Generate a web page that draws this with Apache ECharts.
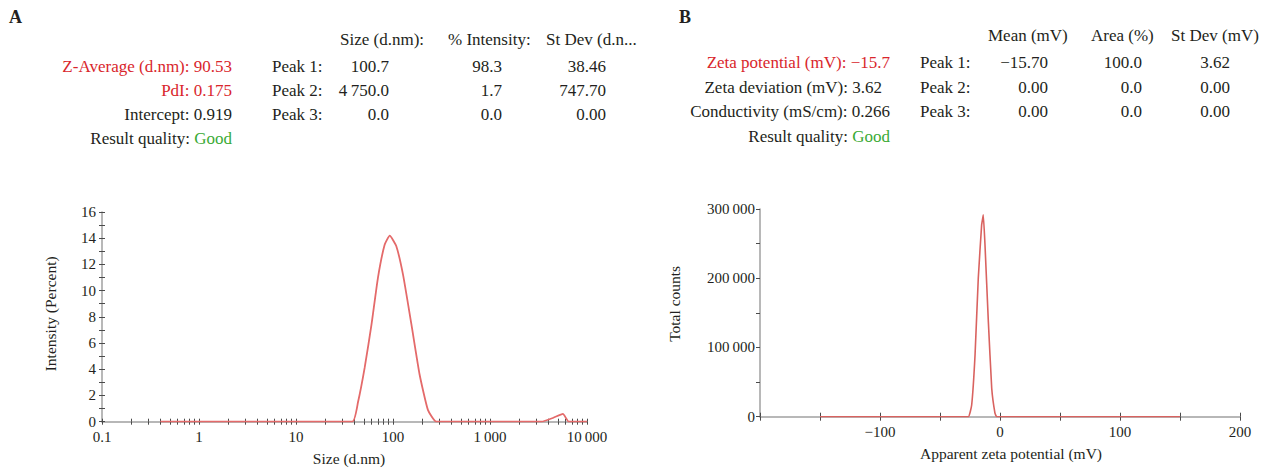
<!DOCTYPE html>
<html>
<head>
<meta charset="utf-8">
<script src="https://cdn.jsdelivr.net/npm/echarts@6/dist/echarts.min.js"></script>
<style>
html,body{margin:0;padding:0;background:#fff;}
#chart{width:1265px;height:469px;}
</style>
</head>
<body>
<div id="chart"></div>
<script>
// ---------- Panel A: size distribution by intensity ----------
const sizeNm = [0.4, 38, 43.6, 51, 60, 70, 82, 92.5, 108, 127, 155, 188, 229, 280, 3400, 4500, 5640, 6500, 10000];
const intensityPct = [0, 0, 1.5, 4.1, 7.4, 11.0, 13.5, 14.2, 13.4, 11.2, 7.4, 3.6, 0.9, 0, 0, 0.3, 0.6, 0, 0];
const sizeTickValues = [0.1, 1, 10, 100, 1000, 10000];
const sizeTickLabels = ['0.1', '1', '10', '100', '1\u2009000', '10\u2009000'];
const intensityTicks = [0, 2, 4, 6, 8, 10, 12, 14, 16];

// ---------- Panel B: zeta potential distribution ----------
const zetaMv = [-150, -26.4, -23.6, -20.8, -18.1, -15.3, -13.9, -12.5, -9.7, -6.9, -4.2, -2.8, 150];
const totalCounts = [0, 0, 16900, 89000, 200000, 277000, 291500, 248000, 137000, 41000, 5000, 0, 0];
const zetaTickLabels = [-100, 0, 100, 200];

// ---------- Result tables ----------
const aSummary = [['Z-Average (d.nm): 90.53', 'red'], ['PdI: 0.175', 'red'], ['Intercept: 0.919', 'dark'], ['Result quality: ', 'good']];
const aHeaders = ['Size (d.nm):', '% Intensity:', 'St Dev (d.n...'];
const aPeaks = ['Peak 1:', 'Peak 2:', 'Peak 3:'];
const aPeakSize = ['100.7', '4\u2009750.0', '0.0'];
const aPeakIntensity = ['98.3', '1.7', '0.0'];
const aPeakStdDev = ['38.46', '747.70', '0.00'];

const bSummary = [['Zeta potential (mV): \u221215.7', 'red'], ['Zeta deviation (mV): 3.62', 'dark'], ['Conductivity (mS/cm): 0.266', 'dark'], ['Result quality: ', 'good']];
const bHeaders = ['Mean (mV)', 'Area (%)', 'St Dev (mV)'];
const bPeaks = ['Peak 1:', 'Peak 2:', 'Peak 3:'];
const bPeakMean = ['\u221215.70', '0.00', '0.00'];
const bPeakArea = ['100.0', '0.0', '0.0'];
const bPeakStdDev = ['3.62', '0.00', '0.00'];

const FONT = '"Liberation Serif", "DejaVu Serif", serif';
const DARK = '#231f20';
const RED = '#d9262c';
const GREEN = '#3aaa35';
const AXIS = '#a0a0a0';
const TICK = '#4a4a4a';
const TFS = 17;

function thin(n) {
  const s = String(Math.abs(n));
  const t = s.length > 4 ? s.replace(/\B(?=(\d{3})+(?!\d))/g, '\u2009') : s;
  return (n < 0 ? '\u2212' : '') + t;
}

const sizeMinorTicks = [];
[0.1, 1, 10, 100, 1000].forEach(d => { for (let k = 1; k <= 9; k++) sizeMinorTicks.push(d * k); });
sizeMinorTicks.push(10000);

const graphics = [];
function txt(x, y, text, align, opts) {
  graphics.push({
    type: 'text', x: x, y: y, silent: true,
    style: Object.assign({
      text: text, fill: DARK, fontSize: TFS, fontFamily: FONT,
      align: align, verticalAlign: 'middle'
    }, opts || {})
  });
}
function summaryText(item) {
  const [t, kind] = item;
  if (kind === 'red') return { text: t, fill: RED };
  if (kind === 'good') return { text: '{d|' + t + '}{g|Good}', rich: { d: { fill: DARK, fontSize: TFS, fontFamily: FONT }, g: { fill: GREEN, fontSize: TFS, fontFamily: FONT } } };
  return { text: t, fill: DARK };
}

// Panel letters
txt(9, 17, 'A', 'left', { fontSize: 18, fontWeight: 'bold' });
txt(679, 17, 'B', 'left', { fontSize: 18, fontWeight: 'bold' });

// Table A
const aRowsY = [66, 90, 114, 138];
const aHeadX = [340, 448, 546];
aHeaders.forEach((h, i) => txt(aHeadX[i], 39, h, 'left'));
aSummary.forEach((s, i) => { const st = summaryText(s); txt(232, aRowsY[i], st.text, 'right', st); });
aPeaks.forEach((p, i) => {
  txt(272, aRowsY[i], p, 'left');
  txt(389, aRowsY[i], aPeakSize[i], 'right');
  txt(502, aRowsY[i], aPeakIntensity[i], 'right');
  txt(606, aRowsY[i], aPeakStdDev[i], 'right');
});

// Table B
const bRowsY = [62, 87, 111, 136];
const bHeadX = [988, 1091, 1171];
bHeaders.forEach((h, i) => txt(bHeadX[i], 35, h, 'left'));
bSummary.forEach((s, i) => { const st = summaryText(s); txt(i === 1 ? 882 : 890, bRowsY[i], st.text, 'right', st); });
bPeaks.forEach((p, i) => {
  txt(920, bRowsY[i], p, 'left');
  txt(1048, bRowsY[i], bPeakMean[i], 'right');
  txt(1142, bRowsY[i], bPeakArea[i], 'right');
  txt(1230, bRowsY[i], bPeakStdDev[i], 'right');
});

const labelStyle = { color: DARK, fontSize: 15, fontFamily: FONT };
const nameStyle = { color: DARK, fontSize: 15.5, fontFamily: FONT };
const hidden = { show: false };

const sizeLabelFormatter = v => {
  let best = 0;
  sizeTickValues.forEach((t, i) => {
    if (Math.abs(Math.log10(t) - Math.log10(v)) < Math.abs(Math.log10(sizeTickValues[best]) - Math.log10(v))) best = i;
  });
  return sizeTickLabels[best];
};

const chart = echarts.init(document.getElementById('chart'), null, { renderer: 'svg' });
chart.setOption({
  animation: false,
  backgroundColor: '#fff',
  graphic: graphics,
  grid: [
    { left: 102, top: 212, width: 485, height: 209.7 },
    { left: 760, top: 209, width: 480, height: 207.7 }
  ],
  xAxis: [
    {
      gridIndex: 0, type: 'log', logBase: 10, min: 0.1, max: 10000, position: 'bottom',
      name: 'Size (d.nm)', nameLocation: 'middle', nameGap: 29,
      nameTextStyle: Object.assign({ padding: [0, 0, 0, 9] }, nameStyle),
      axisLine: { show: true, onZero: false, lineStyle: { color: AXIS, width: 1.5 } },
      axisTick: { show: true, length: 3, customValues: sizeMinorTicks, lineStyle: { color: TICK } },
      minorTick: hidden,
      axisLabel: Object.assign({ margin: 8, customValues: sizeTickValues, formatter: sizeLabelFormatter }, labelStyle),
      splitLine: hidden
    },
    {
      gridIndex: 1, type: 'value', min: -200, max: 200, interval: 50, position: 'bottom',
      name: 'Apparent zeta potential (mV)', nameLocation: 'middle', nameGap: 29,
      nameTextStyle: Object.assign({ padding: [0, 0, 0, 22] }, nameStyle),
      axisLine: { show: true, onZero: false, lineStyle: { color: AXIS, width: 1.5 } },
      axisTick: { show: true, length: 4, lineStyle: { color: TICK } },
      axisLabel: Object.assign({ margin: 8, customValues: zetaTickLabels, formatter: v => thin(v) }, labelStyle),
      splitLine: hidden
    },
    {
      // inner half of the crossing ticks, panel A
      gridIndex: 0, type: 'log', logBase: 10, min: 0.1, max: 10000, position: 'bottom',
      axisLine: { show: false, onZero: false },
      axisTick: { show: true, inside: true, length: 3, customValues: sizeMinorTicks, lineStyle: { color: TICK } },
      axisLabel: hidden, splitLine: hidden
    },
    {
      // inner half of the crossing ticks, panel B
      gridIndex: 1, type: 'value', min: -200, max: 200, interval: 50, position: 'bottom',
      axisLine: { show: false, onZero: false },
      axisTick: { show: true, inside: true, length: 4, lineStyle: { color: TICK } },
      axisLabel: hidden, splitLine: hidden
    }
  ],
  yAxis: [
    {
      gridIndex: 0, type: 'value', min: 0, max: 16, interval: 2, position: 'left',
      name: 'Intensity (Percent)', nameLocation: 'middle', nameGap: 44, nameRotate: 90,
      nameTextStyle: Object.assign({ padding: [0, 0, 0, 6] }, nameStyle),
      axisLine: { show: true, onZero: false, lineStyle: { color: AXIS, width: 1.5 } },
      axisTick: { show: true, length: 3, lineStyle: { color: TICK } },
      minorTick: { show: true, splitNumber: 2, length: 3, lineStyle: { color: TICK } },
      axisLabel: Object.assign({ margin: 6, customValues: intensityTicks }, labelStyle),
      splitLine: hidden
    },
    {
      gridIndex: 1, type: 'value', min: 0, max: 300000, interval: 100000, position: 'left',
      name: 'Total counts', nameLocation: 'middle', nameGap: 78, nameRotate: 90,
      nameTextStyle: Object.assign({ padding: [0, 0, 0, 18] }, nameStyle),
      axisLine: { show: true, onZero: false, lineStyle: { color: AXIS, width: 1.5 } },
      axisTick: { show: true, length: 4, lineStyle: { color: TICK } },
      minorTick: { show: true, splitNumber: 2, length: 4, lineStyle: { color: TICK } },
      axisLabel: Object.assign({ margin: 5, formatter: v => thin(v) }, labelStyle),
      splitLine: hidden
    },
    {
      // inner half of the crossing ticks, panel A
      gridIndex: 0, type: 'value', min: 0, max: 16, interval: 2, position: 'left',
      axisLine: { show: false, onZero: false },
      axisTick: { show: true, inside: true, length: 3, lineStyle: { color: TICK } },
      minorTick: { show: true, splitNumber: 2, length: 3, lineStyle: { color: TICK } },
      axisLabel: hidden, splitLine: hidden
    }
  ],
  series: [
    {
      type: 'line', xAxisIndex: 0, yAxisIndex: 0,
      data: sizeNm.map((s, i) => [s, intensityPct[i]]),
      showSymbol: false, smooth: 0.15,
      lineStyle: { color: '#e46a6a', width: 1.8 }, z: 5
    },
    {
      type: 'line', xAxisIndex: 1, yAxisIndex: 1,
      data: zetaMv.map((z, i) => [z, totalCounts[i]]),
      showSymbol: false, smooth: 0.1,
      lineStyle: { color: '#d9625f', width: 1.6 }, z: 5
    }
  ]
});
</script>
</body>
</html>
